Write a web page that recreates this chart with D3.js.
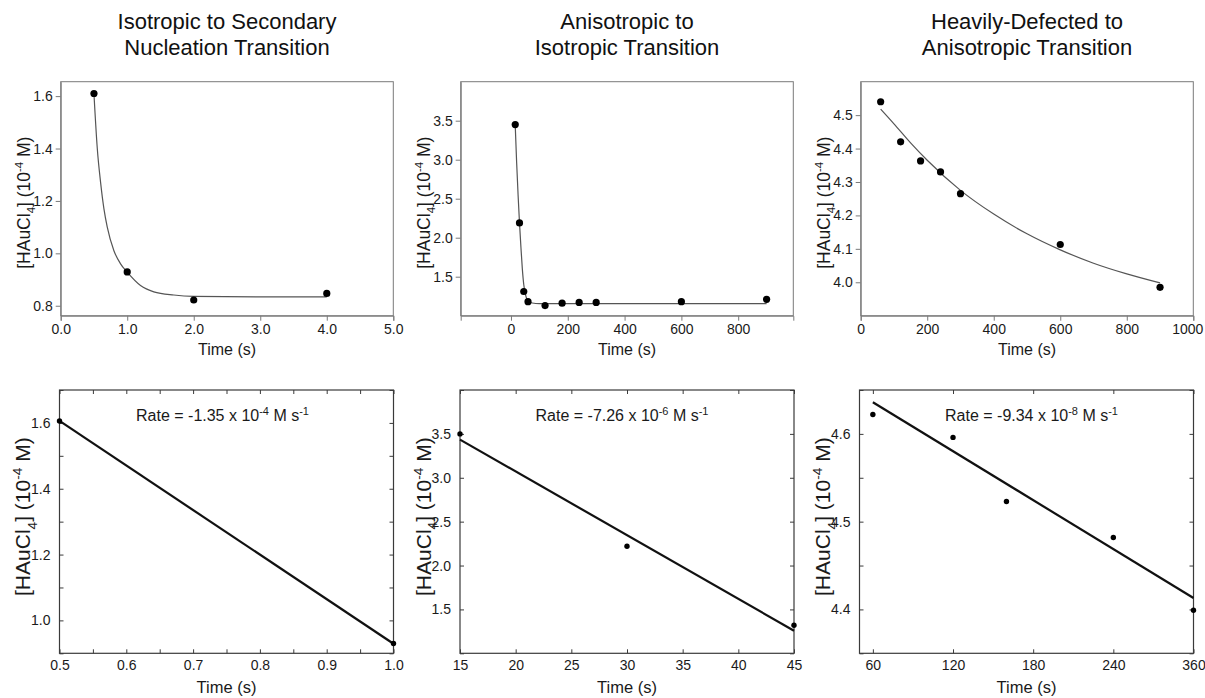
<!DOCTYPE html>
<html>
<head>
<meta charset="utf-8">
<script src="https://cdn.jsdelivr.net/npm/d3@7"></script>
<style>
  body { margin: 0; background: #fff; }
  svg text { font-family: "Liberation Sans", Arial, sans-serif; }
</style>
</head>
<body>
<svg id="chart" width="1205" height="698"></svg>
<script>
// ---- data ----
const titles = [
    ["Isotropic to Secondary", "Nucleation Transition"],
    ["Anisotropic to", "Isotropic Transition"],
    ["Heavily-Defected to", "Anisotropic Transition"]
]

// top row: full kinetics + exponential fit
const isoTime = [0.5, 1, 2, 4]
const isoConc = [1.61, 0.929, 0.822, 0.847]
const isoFitTime = [0.5, 0.55, 0.6, 0.65, 0.7, 0.8, 0.9, 1.0, 1.2, 1.4, 1.7, 2.0, 3.0, 4.0]
const isoFitConc = [1.608, 1.40, 1.27, 1.17, 1.10, 1.01, 0.96, 0.928, 0.877, 0.853, 0.841, 0.836, 0.834, 0.834]

const anisoTime = [15, 30, 45, 60, 120, 180, 240, 300, 600, 900]
const anisoConc = [3.45, 2.19, 1.31, 1.18, 1.13, 1.16, 1.17, 1.17, 1.18, 1.21]
const anisoFitTime = [15, 20, 25, 30, 35, 40, 45, 50, 60, 75, 100, 150, 900]
const anisoFitConc = [3.44, 2.96, 2.55, 2.19, 1.88, 1.60, 1.40, 1.29, 1.19, 1.163, 1.156, 1.155, 1.155]

const defectTime = [60, 120, 180, 240, 300, 600, 900]
const defectConc = [4.54, 4.42, 4.363, 4.33, 4.265, 4.113, 3.985]
const defectFitTime = [60, 100, 150, 200, 300, 400, 500, 600, 700, 800, 900]
const defectFitConc = [4.518, 4.474, 4.417, 4.365, 4.275, 4.204, 4.145, 4.097, 4.057, 4.025, 3.998]

// bottom row: initial rates + linear fit
const isoRateTime = [0.5, 1.0]
const isoRateConc = [1.606, 0.930]
const isoLineTime = [0.5, 1.0]
const isoLineConc = [1.606, 0.929]

const anisoRateTime = [15, 30, 45]
const anisoRateConc = [3.50, 2.22, 1.32]
const anisoLineTime = [15, 45]
const anisoLineConc = [3.435, 1.257]

const defectRateTime = [60, 120, 160, 240, 300]
const defectRateConc = [4.622, 4.596, 4.523, 4.482, 4.399]
const defectLineTime = [60, 300]
const defectLineConc = [4.636, 4.413]
const defectRateTicks = [60, 120, 180, 240, 300]
const defectRateTickLabels = ["60", "120", "180", "240", "360"]

const rateMantissa = ["-1.35", "-7.26", "-9.34"]
const rateExponent = ["-4", "-6", "-8"]


const svg = d3.select("#chart")

const topRow = { top: 81.7, bottom: 315.7 }
const bottomRow = { top: 390, bottom: 653.3 }
const colLeft = [60.7, 460.7, 860.7]
const colLeftB = [59.5, 460, 859.5]
const plotW = 332.6
const plotWB = 334


function yLabel(g, x, y, size) {
    const t = g.append("text")
        .attr("transform", "translate(" + x + "," + y + ") rotate(-90)")
        .attr("text-anchor", "middle")
        .attr("dy", "0.35em")
        .style("font-size", size + "px")
        .attr("fill", "#1a1a1a")
    t.append("tspan").text("[HAuCl")
    t.append("tspan").text("4").attr("dy", size * 0.3).style("font-size", (size * 0.65) + "px")
    t.append("tspan").text("] (10").attr("dy", -size * 0.3)
    t.append("tspan").text("-4").attr("dy", -size * 0.38).style("font-size", (size * 0.65) + "px")
    t.append("tspan").text(" M)").attr("dy", size * 0.38)
}


function styleAxis(sel, color, fontSize) {
    sel.selectAll("path").attr("stroke", color)
    sel.selectAll("line").attr("stroke", color)
    sel.selectAll("text")
        .attr("fill", "#1a1a1a")
        .style("font-size", fontSize + "px")
        .style("font-family", '"Liberation Sans", Arial, sans-serif')
}


function drawTop(i, cfg) {
    const left = colLeft[i]
    const x = d3.scaleLinear().domain(cfg.xDomain).range([left, left + plotW])
    const y = d3.scaleLinear().domain(cfg.yDomain).range([topRow.bottom, topRow.top])
    const g = svg.append("g")
    const grey = "#7a7a7a"

    g.append("rect")
        .attr("x", left).attr("y", topRow.top)
        .attr("width", plotW).attr("height", topRow.bottom - topRow.top)
        .attr("fill", "none").attr("stroke", grey).attr("stroke-width", 1)

    const xAxis = d3.axisBottom(x).tickValues(cfg.xTicks).tickFormat(cfg.xFormat)
        .tickSize(5).tickSizeOuter(5).tickPadding(3)
    const xg = g.append("g").attr("transform", "translate(0," + topRow.bottom + ")").call(xAxis)
        .call(s => styleAxis(s, grey, 14))
    // the last label sits a little inside the page edge in the figure
    if (cfg.lastLabelShift) {
        xg.selectAll(".tick text").filter((d, k, n) => k === n.length - 1)
            .attr("dx", cfg.lastLabelShift)
    }

    const yAxis = d3.axisLeft(y).tickValues(cfg.yTicks).tickFormat(d3.format(".1f"))
        .tickSize(5).tickSizeOuter(0).tickPadding(3)
    g.append("g").attr("transform", "translate(" + left + ",0)").call(yAxis)
        .call(s => styleAxis(s, grey, 14))

    const line = d3.line().x(d => x(d[0])).y(d => y(d[1])).curve(d3.curveMonotoneX)
    g.append("path")
        .datum(d3.zip(cfg.fitTime, cfg.fitConc))
        .attr("d", line)
        .attr("fill", "none").attr("stroke", "#555").attr("stroke-width", 1.2)

    g.selectAll("circle")
        .data(d3.zip(cfg.time, cfg.conc))
        .enter()
        .append("circle")
        .attr("cx", d => x(d[0])).attr("cy", d => y(d[1]))
        .attr("r", 3.6).attr("fill", "#000")

    const cx = left + plotW / 2
    g.append("text").attr("x", cx).attr("y", 29).attr("text-anchor", "middle")
        .style("font-size", "22px").attr("fill", "#111").text(titles[i][0])
    g.append("text").attr("x", cx).attr("y", 55).attr("text-anchor", "middle")
        .style("font-size", "22px").attr("fill", "#111").text(titles[i][1])

    g.append("text").attr("x", cx).attr("y", 354.5).attr("text-anchor", "middle")
        .style("font-size", "16px").attr("fill", "#1a1a1a").text("Time (s)")

    yLabel(g, left - 37, (topRow.top + topRow.bottom) / 2 + 4, 17.5)
}


function drawBottom(i, cfg) {
    const left = colLeftB[i]
    const x = d3.scaleLinear().domain(cfg.xDomain).range([left, left + plotWB])
    const y = d3.scaleLinear().domain(cfg.yDomain).range([bottomRow.bottom, bottomRow.top])
    const g = svg.append("g")
    const dark = "#3a3a3a"

    g.append("rect")
        .attr("x", left).attr("y", bottomRow.top)
        .attr("width", plotWB).attr("height", bottomRow.bottom - bottomRow.top)
        .attr("fill", "none").attr("stroke", dark).attr("stroke-width", 1.2)

    // inward ticks on all four sides
    const bx = d3.axisBottom(x).tickValues(cfg.xTicks).tickFormat(cfg.xFormat)
        .tickSize(-4).tickSizeOuter(0).tickPadding(7)
    g.append("g").attr("transform", "translate(0," + bottomRow.bottom + ")").call(bx)
        .call(s => styleAxis(s, dark, 14))
    const tx = d3.axisTop(x).tickValues(cfg.xTicks).tickFormat("").tickSize(-4).tickSizeOuter(0)
    g.append("g").attr("transform", "translate(0," + bottomRow.top + ")").call(tx)
        .call(s => styleAxis(s, dark, 14))

    const ly = d3.axisLeft(y).tickValues(cfg.yTicks).tickFormat(cfg.yFormat)
        .tickSize(-4).tickSizeOuter(0).tickPadding(9)
    g.append("g").attr("transform", "translate(" + left + ",0)").call(ly)
        .call(s => styleAxis(s, dark, 14))
    const ry = d3.axisRight(y).tickValues(cfg.yTicks).tickFormat("").tickSize(-4).tickSizeOuter(0)
    g.append("g").attr("transform", "translate(" + (left + plotWB) + ",0)").call(ry)
        .call(s => styleAxis(s, dark, 14))

    g.selectAll(".domain").attr("stroke", "none")

    const line = d3.line().x(d => x(d[0])).y(d => y(d[1]))
    g.append("path")
        .datum(d3.zip(cfg.lineTime, cfg.lineConc))
        .attr("d", line)
        .attr("fill", "none").attr("stroke", "#111").attr("stroke-width", 2.2)

    g.selectAll("circle")
        .data(d3.zip(cfg.time, cfg.conc))
        .enter()
        .append("circle")
        .attr("cx", d => x(d[0])).attr("cy", d => y(d[1]))
        .attr("r", 2.7).attr("fill", "#000")

    const cx = left + plotWB / 2
    const note = g.append("text").attr("x", cx + cfg.noteShift).attr("y", 421)
        .attr("text-anchor", "middle").style("font-size", "16px").attr("fill", "#1a1a1a")
    note.append("tspan").text("Rate = " + rateMantissa[i] + " x 10")
    note.append("tspan").text(rateExponent[i]).attr("dy", -6).style("font-size", "11px")
    note.append("tspan").text(" M s").attr("dy", 6)
    note.append("tspan").text("-1").attr("dy", -6).style("font-size", "11px")

    g.append("text").attr("x", cx).attr("y", 692.5).attr("text-anchor", "middle")
        .style("font-size", "16.5px").attr("fill", "#1a1a1a").text("Time (s)")

    yLabel(g, left - 36.5, (bottomRow.top + bottomRow.bottom) / 2 - 5, 21)
}


const oneDecimal = d3.format(".1f")
const plain = d3.format("d")

drawTop(0, {
    xDomain: [0, 5], yDomain: [0.762, 1.655],
    xTicks: [0, 1, 2, 3, 4, 5], xFormat: oneDecimal,
    yTicks: [0.8, 1.0, 1.2, 1.4, 1.6],
    time: isoTime, conc: isoConc, fitTime: isoFitTime, fitConc: isoFitConc
})

drawTop(1, {
    xDomain: [-177, 994], yDomain: [1.0, 4.0],
    xTicks: [0, 200, 400, 600, 800], xFormat: plain,
    yTicks: [1.5, 2.0, 2.5, 3.0, 3.5],
    time: anisoTime, conc: anisoConc, fitTime: anisoFitTime, fitConc: anisoFitConc
})

drawTop(2, {
    xDomain: [0, 1000], yDomain: [3.9, 4.6],
    xTicks: [0, 200, 400, 600, 800, 1000], xFormat: plain,
    yTicks: [4.0, 4.1, 4.2, 4.3, 4.4, 4.5],
    lastLabelShift: -6,
    time: defectTime, conc: defectConc, fitTime: defectFitTime, fitConc: defectFitConc
})

const isLabel = (d, step) => Math.abs(d / step - Math.round(d / step)) < 1e-6

drawBottom(0, {
    xDomain: [0.5, 1.0], yDomain: [0.9, 1.7],
    xTicks: d3.range(0, 11).map(k => 0.5 + k * 0.05),
    xFormat: d => isLabel(d, 0.1) ? oneDecimal(d) : "",
    yTicks: d3.range(0, 9).map(k => 0.9 + k * 0.1),
    yFormat: d => isLabel(d, 0.2) ? oneDecimal(d) : "",
    time: isoRateTime, conc: isoRateConc, lineTime: isoLineTime, lineConc: isoLineConc,
    noteShift: -4
})

drawBottom(1, {
    xDomain: [15, 45], yDomain: [1.0, 4.0],
    xTicks: [15, 20, 25, 30, 35, 40, 45], xFormat: plain,
    yTicks: [1.0, 1.5, 2.0, 2.5, 3.0, 3.5, 4.0],
    yFormat: d => (d > 1.2 && d < 3.8) ? oneDecimal(d) : "",
    time: anisoRateTime, conc: anisoRateConc, lineTime: anisoLineTime, lineConc: anisoLineConc,
    noteShift: -5
})

drawBottom(2, {
    xDomain: [50, 300], yDomain: [4.35, 4.65],
    xTicks: defectRateTicks,
    xFormat: (d, k) => defectRateTickLabels[k],
    yTicks: [4.35, 4.4, 4.45, 4.5, 4.55, 4.6, 4.65],
    yFormat: d => isLabel(d, 0.1) ? oneDecimal(d) : "",
    time: defectRateTime, conc: defectRateConc, lineTime: defectLineTime, lineConc: defectLineConc,
    noteShift: 5
})
</script>
</body>
</html>
